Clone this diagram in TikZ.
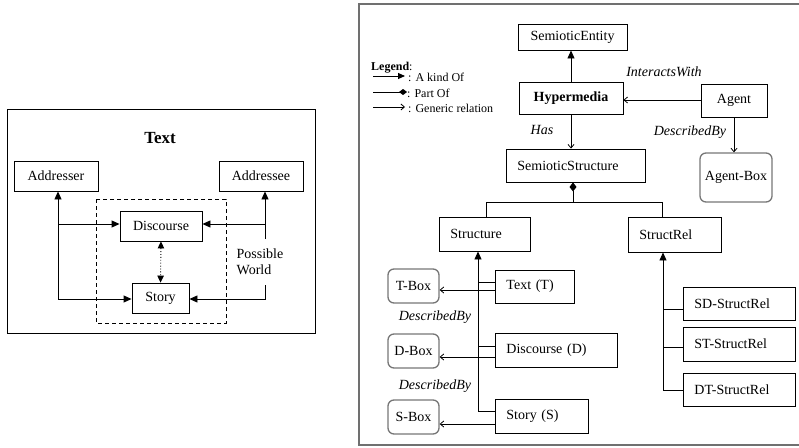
\documentclass[tikz,border=0pt]{standalone}
\usepackage{fontspec}
\setmainfont{Liberation Serif}
\usetikzlibrary{arrows.meta}

\definecolor{framegray}{HTML}{707070}
\definecolor{roundgray}{HTML}{767676}

\tikzset{
  every node/.style={font=\fontsize{14}{16}\selectfont},
  cbox/.style={draw, line width=0.9pt, inner sep=0pt, align=center},
  lbox/.style={draw, line width=0.9pt, inner xsep=11pt, inner ysep=0pt, align=left, anchor=west},
  rbox/.style={draw=roundgray, line width=1.3pt, rounded corners=6pt, inner sep=0pt, align=center},
  kindof/.style={line width=0.9pt, -{Triangle[length=8pt,width=7pt]}},
  bothkind/.style={line width=0.9pt, dotted, {Triangle[length=7pt,width=6.5pt]}-{Triangle[length=7pt,width=6.5pt]}},
  generic/.style={line width=0.8pt, -{Straight Barb[length=3.5pt,width=6pt]}},
  partof/.style={line width=0.9pt, {Diamond[length=9pt,width=7pt]}-},
  link/.style={line width=0.9pt},
  lbl/.style={font=\itshape\fontsize{14}{16}\selectfont, inner sep=0pt},
  legtext/.style={font=\fontsize{12}{14}\selectfont, anchor=west, inner sep=0pt}
}

\begin{document}
\begin{tikzpicture}[x=1pt,y=-1pt]
\useasboundingbox (0,0) rectangle (799,447);

% ---------------- left panel: the text model ----------------
\draw[line width=1pt] (7,109) rectangle (315,333);
\node[font=\bfseries\fontsize{17}{20}\selectfont, inner sep=0pt] (title) at (160,138) {Text};
\node[cbox, minimum width=84pt, minimum height=30pt] (addresser) at (56,176) {Addresser};
\node[cbox, minimum width=84pt, minimum height=30pt] (addressee) at (261,176) {Addressee};
\draw[line width=0.9pt, dash pattern=on 4pt off 3pt] (96,199) rectangle (226,323);
\node[cbox, minimum width=82pt, minimum height=30pt] (discourse) at (161,226) {Discourse};
\node[cbox, minimum width=57pt, minimum height=30pt] (story) at (160.5,298) {Story};
\node[align=left, inner sep=0pt] (world) at (260,262) {Possible\\World};

\coordinate (yL1) at (0,224);
\coordinate (lj) at (58,299);
\coordinate (rt) at (265,239);
\coordinate (rb) at (265,285);
\coordinate (rc) at (265,299);

\draw[kindof] (lj) -- (lj |- addresser.south);
\draw[kindof] (lj |- yL1) -- (discourse.west |- yL1);
\draw[kindof] (lj) -- (story.west |- lj);
\draw[kindof] (rt) -- (rt |- addressee.south);
\draw[kindof] (rt |- yL1) -- (discourse.east |- yL1);
\draw[kindof] (rb) -- (rc) -- (story.east |- rc);
\draw[bothkind] (discourse.south) -- (story.north);

% ---------------- right panel: the hypermedia model ----------------
\draw[draw=framegray, line width=1.5pt] (359,4) rectangle (806,445);

% legend
\node[legtext] (legend) at (371,68) {\textbf{Legend}:};
\coordinate (k0) at (373,76);  \coordinate (k1) at (405,76);
\coordinate (p0) at (373,92);  \coordinate (p1) at (407,92);
\coordinate (g0) at (373,107); \coordinate (g1) at (405,107);
\draw[line width=0.9pt, -{Triangle[length=7pt,width=6pt]}] (k0) -- (k1);
\draw[line width=0.9pt, -{Diamond[length=8pt,width=6pt]}] (p0) -- (p1);
\draw[generic] (g0) -- (g1);
\node[legtext] (lk) at (408,77) {: A kind Of};
\node[legtext] (lp) at (407,93) {: Part Of};
\node[legtext] (lg) at (408,108) {: Generic relation};

% boxes
\node[cbox, minimum width=109pt, minimum height=26pt] (entity) at (572.5,37) {SemioticEntity};
\node[cbox, font=\bfseries\fontsize{14}{16}\selectfont, minimum width=104pt, minimum height=32pt] (hyper) at (571,98) {Hypermedia};
\node[cbox, minimum width=66pt, minimum height=33pt] (agent) at (734,100.5) {Agent};
\node[rbox, minimum width=72pt, minimum height=49pt] (agentbox) at (736,177.5) {Agent-Box};
\node[lbox, text width=117pt, minimum height=33pt] (sstruct) at (506,165.5) {SemioticStructure};
\node[lbox, text width=69pt, minimum height=34pt] (structure) at (439,234) {Structure};
\node[lbox, text width=71pt, minimum height=35pt] (structrel) at (628,234.5) {StructRel};
\node[lbox, text width=57pt, minimum height=33pt] (textT) at (495,286.5) {Text (T)};
\node[lbox, text width=100pt, minimum height=34pt] (discD) at (495,350) {Discourse (D)};
\node[lbox, text width=71pt, minimum height=34pt] (storyS) at (495,416) {Story (S)};
\node[rbox, minimum width=51pt, minimum height=34pt] (tbox) at (413.5,286) {T-Box};
\node[rbox, minimum width=51pt, minimum height=34pt] (dbox) at (413.5,351) {D-Box};
\node[rbox, minimum width=51pt, minimum height=34pt] (sbox) at (413.5,417) {S-Box};
\node[lbox, text width=90pt, minimum height=33pt] (sd) at (683,303.5) {SD-StructRel};
\node[lbox, text width=90pt, minimum height=34pt] (st) at (683,344) {ST-StructRel};
\node[lbox, text width=90pt, minimum height=33pt] (dt) at (683,389.5) {DT-StructRel};

% relation labels
\node[lbl] (interacts) at (664,72) {InteractsWith};
\node[lbl] (has) at (542,130) {Has};
\node[lbl] (descA) at (690,132) {DescribedBy};
\node[lbl] (descT) at (435,317) {DescribedBy};
\node[lbl] (descD) at (435,386) {DescribedBy};

% helper levels for the connectors
\coordinate (yA) at (0,100);
\coordinate (yT1) at (0,282);  \coordinate (yT2) at (0,290);
\coordinate (yD1) at (0,346);  \coordinate (yD2) at (0,357);
\coordinate (yS2) at (0,424);
\coordinate (ySD) at (0,309);  \coordinate (yST) at (0,347);
\coordinate (pj) at (573,202);
\coordinate (sl) at (486,202);
\coordinate (sr) at (662,202);
\coordinate (sv) at (478,411);
\coordinate (rv) at (663,390);

% connectors
\draw[kindof] (hyper.north) -- (hyper.north |- entity.south);
\draw[generic] (agent.west |- yA) -- (hyper.east |- yA);
\draw[generic] (hyper.south) -- (hyper.south |- sstruct.north);
\draw[generic] (agent.south) -- (agent.south |- agentbox.north);
\draw[partof] (pj |- sstruct.south) -- (pj);
\draw[link] (sl |- structure.north) -- (sl) -- (sr) -- (sr |- structrel.north);

\draw[kindof] (storyS.west |- sv) -- (sv) -- (sv |- structure.south);
\draw[link] (sv |- yT1) -- (textT.west |- yT1);
\draw[link] (sv |- yD1) -- (discD.west |- yD1);
\draw[generic] (textT.west |- yT2) -- (tbox.east |- yT2);
\draw[generic] (discD.west |- yD2) -- (dbox.east |- yD2);
\draw[generic] (storyS.west |- yS2) -- (sbox.east |- yS2);

\draw[kindof] (dt.west |- rv) -- (rv) -- (rv |- structrel.south);
\draw[link] (rv |- ySD) -- (sd.west |- ySD);
\draw[link] (rv |- yST) -- (st.west |- yST);
\end{tikzpicture}
\end{document}
